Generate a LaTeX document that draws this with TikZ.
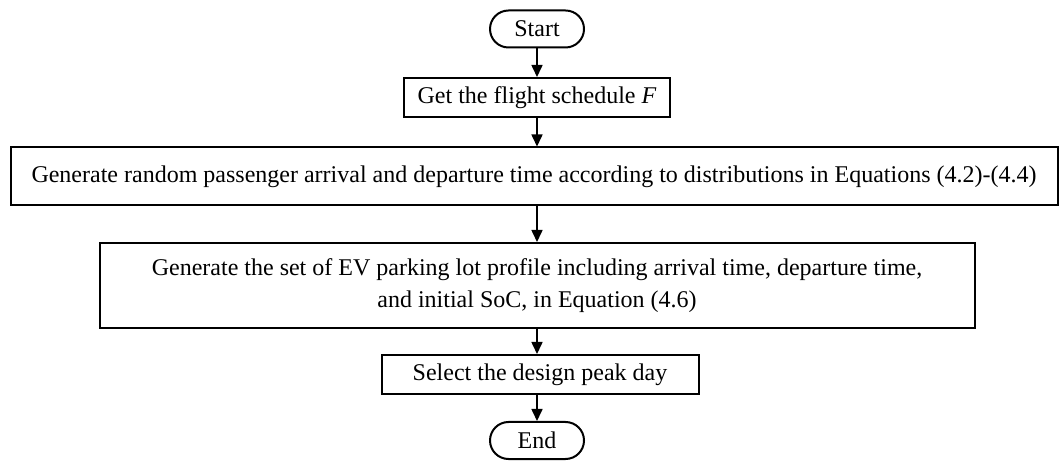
\documentclass[tikz,border=0pt]{standalone}
\usepackage{fontspec}
\setmainfont{Liberation Serif}
\usetikzlibrary{arrows.meta,shapes.misc}
\begin{document}
\begin{tikzpicture}[x=1pt,y=1pt,
  every node/.style={font=\fontsize{24}{32}\selectfont, inner sep=0pt},
  terminal/.style={draw, line width=2pt, rounded rectangle, minimum width=94pt, minimum height=37pt},
  procbox/.style={draw, line width=2pt, rectangle, align=center},
  flow/.style={line width=1.6pt, -{Triangle[length=12pt,width=11pt]}}]
\useasboundingbox (0,0) rectangle (1059,460);
\node[terminal] (start) at (537,431) {Start};
\node[procbox, minimum width=266pt, minimum height=39pt] (get) at (537,362.5) {Get the flight schedule \textit{F}};
\node[procbox, minimum width=1047pt, minimum height=58pt] (gen) at (534,283.5)
  {Generate random passenger arrival and departure time according to distributions in Equations (4.2)-(4.4)};
\node[procbox, minimum width=875pt, minimum height=85pt] (ev) at (537,174.5)
  {Generate the set of EV parking lot profile including arrival time, departure time,\\and initial SoC, in Equation (4.6)};
\node[procbox, minimum width=317pt, minimum height=39pt] (sel) at (540,85.5) {Select the design peak day};
\node[terminal] (end) at (537,19.5) {End};
\draw[flow] (start.south) -- (get.north);
\draw[flow] (get.south) -- (get.south |- gen.north);
\draw[flow] (get.south |- gen.south) -- (get.south |- ev.north);
\draw[flow] (ev.south) -- (ev.south |- sel.north);
\draw[flow] (ev.south |- sel.south) -- (end.north);
\end{tikzpicture}
\end{document}
